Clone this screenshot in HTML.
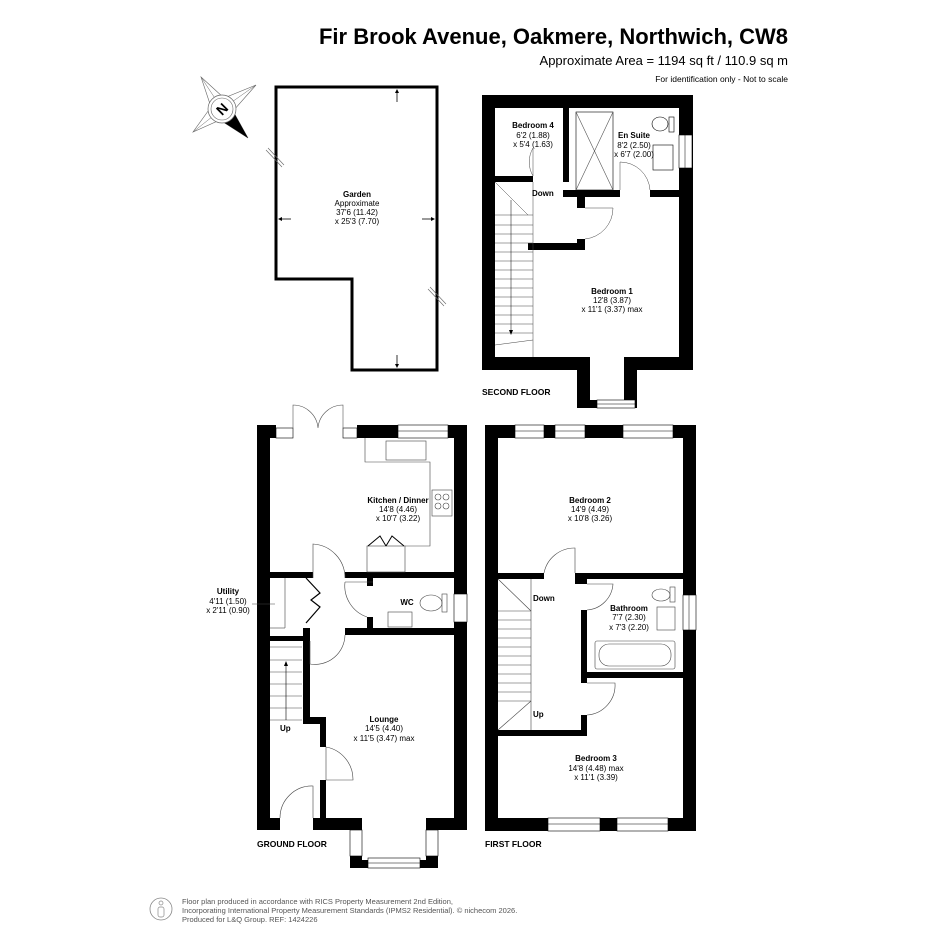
<!DOCTYPE html>
<html><head><meta charset="utf-8"><style>
html,body{margin:0;padding:0;background:#fff;}
svg{display:block;font-family:"Liberation Sans",Arial,sans-serif;}
.b{font-weight:bold;font-size:8px;}
.t{font-size:8px;}
.w{fill:#fff;stroke:#000;stroke-width:0.6;}
.l{fill:none;stroke:#555;stroke-width:0.6;}
</style></head><body>
<svg width="945" height="945" viewBox="0 0 945 945" xmlns="http://www.w3.org/2000/svg">
<rect width="945" height="945" fill="#fff"/>
<text x="788" y="44" text-anchor="end" font-size="22" font-weight="bold">Fir Brook Avenue, Oakmere, Northwich, CW8</text>
<text x="788" y="65" text-anchor="end" font-size="13">Approximate Area = 1194 sq ft / 110.9 sq m</text>
<text x="788" y="82" text-anchor="end" font-size="8.5">For identification only - Not to scale</text>

<!-- compass -->
<polygon points="201,77 224,98 256,85 233,111 248,138 220,120 193,132 211,107" fill="#fff" stroke="#666" stroke-width="0.6"/>
<g stroke="#666" stroke-width="0.5"><line x1="201" y1="77" x2="222" y2="109"/><line x1="256" y1="85" x2="222" y2="109"/><line x1="193" y1="132" x2="222" y2="109"/></g>
<polygon points="233,111 248,138 220,120 222,109" fill="#000"/>
<circle cx="222" cy="109" r="14" fill="#fff" stroke="#666" stroke-width="0.7"/>
<circle cx="222" cy="109" r="11" fill="none" stroke="#666" stroke-width="0.6"/>
<text x="222" y="114" text-anchor="middle" font-size="14" font-weight="bold" transform="rotate(-45 222 109)">N</text>

<!-- garden -->
<polygon points="276,87 437,87 437,370 352,370 352,279 276,279" fill="none" stroke="#000" stroke-width="3"/>
<g stroke="#000" stroke-width="0.8">
<line x1="397" y1="92" x2="397" y2="102"/><line x1="397" y1="355" x2="397" y2="365"/>
<line x1="281" y1="219" x2="291" y2="219"/><line x1="422" y1="219" x2="432" y2="219"/>
</g>
<g fill="#000"><polygon points="397,89 395,93 399,93"/><polygon points="397,368 395,364 399,364"/><polygon points="278,219 282,217 282,221"/><polygon points="435,219 431,217 431,221"/></g>
<g stroke="#666" stroke-width="0.6"><line x1="266" y1="150" x2="282" y2="167"/><line x1="268" y1="148" x2="284" y2="165"/>
<line x1="428" y1="289" x2="444" y2="306"/><line x1="430" y1="287" x2="446" y2="304"/></g>
<text x="357" y="197" text-anchor="middle" class="b">Garden</text>
<text x="357" y="206" text-anchor="middle" class="t">Approximate</text>
<text x="357" y="215" text-anchor="middle" class="t">37'6 (11.42)</text>
<text x="357" y="224" text-anchor="middle" class="t">x 25'3 (7.70)</text>

<!-- SECOND FLOOR -->
<rect x="482" y="95" width="211" height="275" fill="#000"/>
<rect x="577" y="360" width="60" height="48" fill="#000"/>
<rect x="495" y="108" width="184" height="249" fill="#fff"/>
<rect x="590" y="355" width="34" height="45" fill="#fff"/>
<rect x="597" y="400" width="38" height="8" class="w"/><line x1="597" y1="404" x2="635" y2="404" stroke="#000" stroke-width="0.5"/>
<rect x="679" y="135" width="13" height="33" class="w"/><line x1="685" y1="135" x2="685" y2="168" stroke="#000" stroke-width="0.5"/>
<g fill="#000">
<rect x="495" y="176" width="38" height="6"/>
<rect x="563" y="108" width="6" height="74"/>
<rect x="563" y="190" width="57" height="7"/>
<rect x="650" y="190" width="29" height="7"/>
<rect x="577" y="197" width="8" height="11"/>
<rect x="577" y="239" width="8" height="11"/>
<rect x="528" y="243" width="57" height="7"/>
</g>
<rect x="576" y="112" width="37" height="78" class="w"/>
<path d="M576 112 L613 190 M613 112 L576 190" class="l"/>
<rect x="653" y="145" width="20" height="25" class="w"/>
<ellipse cx="660" cy="124" rx="8" ry="7" class="w"/><rect x="669" y="117" width="5" height="15" class="w"/>
<g stroke="#444" stroke-width="0.5" fill="none">
<line x1="533" y1="182" x2="533" y2="357"/>
<path d="M495 182 L528 215"/>
<line x1="495" y1="215" x2="533" y2="215"/>
<line x1="495" y1="225" x2="533" y2="225"/><line x1="495" y1="234" x2="533" y2="234"/><line x1="495" y1="243" x2="533" y2="243"/>
<line x1="495" y1="252" x2="533" y2="252"/><line x1="495" y1="261" x2="533" y2="261"/><line x1="495" y1="270" x2="533" y2="270"/>
<line x1="495" y1="279" x2="533" y2="279"/><line x1="495" y1="288" x2="533" y2="288"/><line x1="495" y1="297" x2="533" y2="297"/>
<line x1="495" y1="306" x2="533" y2="306"/><line x1="495" y1="315" x2="533" y2="315"/><line x1="495" y1="324" x2="533" y2="324"/>
<line x1="495" y1="333" x2="533" y2="333"/><line x1="495" y1="345" x2="533" y2="340"/>
<line x1="511" y1="200" x2="511" y2="333" stroke="#000"/>
<path d="M533 176 L533 148 A28 28 0 0 0 533 176" />
<path d="M585 208 L613 208 A31 31 0 0 1 585 239" />
<path d="M620 190 L620 162 A30 30 0 0 1 650 190" />
</g>
<polygon points="509,330 513,330 511,335" fill="#000"/>
<text x="532" y="196" class="b">Down</text>
<text x="533" y="128" text-anchor="middle" class="b">Bedroom 4</text>
<text x="533" y="138" text-anchor="middle" class="t">6'2 (1.88)</text>
<text x="533" y="147" text-anchor="middle" class="t">x 5'4 (1.63)</text>
<text x="634" y="138" text-anchor="middle" class="b">En Suite</text>
<text x="634" y="148" text-anchor="middle" class="t">8'2 (2.50)</text>
<text x="634" y="157" text-anchor="middle" class="t">x 6'7 (2.00)</text>
<text x="612" y="294" text-anchor="middle" class="b">Bedroom 1</text>
<text x="612" y="303" text-anchor="middle" class="t">12'8 (3.87)</text>
<text x="612" y="312" text-anchor="middle" class="t">x 11'1 (3.37) max</text>
<text x="482" y="395" font-size="8.5" font-weight="bold">SECOND FLOOR</text>

<!-- GROUND FLOOR -->
<rect x="257" y="425" width="210" height="405" fill="#000"/>
<rect x="350" y="820" width="88" height="48" fill="#000"/>
<rect x="270" y="438" width="184" height="380" fill="#fff"/>
<rect x="276" y="425" width="81" height="13" fill="#fff"/>
<rect x="276" y="428" width="17" height="10" class="w"/><rect x="343" y="428" width="14" height="10" class="w"/>
<path d="M293 428 L293 405 A25 25 0 0 1 318 428 M343 428 L343 405 A25 25 0 0 0 318 428" class="l"/>
<rect x="398" y="425" width="50" height="13" class="w"/><line x1="398" y1="431" x2="448" y2="431" stroke="#000" stroke-width="0.5"/>
<rect x="280" y="818" width="33" height="12" fill="#fff"/>
<rect x="362" y="818" width="64" height="42" fill="#fff"/>
<rect x="350" y="830" width="12" height="26" class="w"/><rect x="426" y="830" width="12" height="26" class="w"/>
<rect x="368" y="858" width="52" height="10" class="w"/><line x1="368" y1="863" x2="420" y2="863" stroke="#000" stroke-width="0.5"/>
<rect x="454" y="594" width="13" height="28" class="w"/>
<g fill="#000">
<rect x="270" y="572" width="43" height="6"/>
<rect x="345" y="572" width="109" height="6"/>
<rect x="345" y="628" width="109" height="7"/>
<rect x="367" y="578" width="6" height="8"/>
<rect x="367" y="617" width="6" height="12"/>
<rect x="270" y="636" width="33" height="5"/>
<rect x="303" y="628" width="7" height="95"/>
<rect x="303" y="717" width="23" height="7"/>
<rect x="320" y="717" width="6" height="30"/>
<rect x="320" y="780" width="6" height="40"/>
<rect x="313" y="818" width="37" height="12"/>
</g>
<g stroke="#444" stroke-width="0.6" fill="none">
<path d="M365 438 L365 462 L430 462 L430 546 L405 546"/>
<rect x="367" y="546" width="38" height="26"/>
<rect x="386" y="441" width="40" height="19"/>
<rect x="432" y="490" width="20" height="26"/>
<circle cx="438" cy="497" r="3"/><circle cx="446" cy="497" r="3"/><circle cx="438" cy="506" r="3"/><circle cx="446" cy="506" r="3"/>
<path d="M368 546 L380 536 L386 546 M386 546 L392 536 L404 546" stroke="#000" stroke-width="1"/>
<path d="M313 578 L313 544 A34 34 0 0 1 345 578"/>
<path d="M345 582 L373 582 M345 582 A33 33 0 0 0 367 617"/>
<path d="M310 641 L310 664 A30 30 0 0 0 345 635"/>
<path d="M326 747 L326 780 M326 747 A33 33 0 0 1 353 780 L326 780"/>
<path d="M280 818 A32 32 0 0 1 313 786 L313 818"/>
<line x1="285" y1="578" x2="285" y2="628"/><line x1="270" y1="628" x2="285" y2="628"/>
<rect x="388" y="612" width="24" height="15"/>
<ellipse cx="431" cy="603" rx="11" ry="8"/><rect x="442" y="594" width="5" height="18"/>
<path d="M306 578 L320 593 L311 600 L320 607 L306 623" stroke="#000" stroke-width="1.2"/>
<line x1="270" y1="647" x2="302" y2="647"/>
<line x1="270" y1="660" x2="302" y2="660"/><line x1="270" y1="672" x2="302" y2="672"/><line x1="270" y1="684" x2="302" y2="684"/>
<line x1="270" y1="696" x2="302" y2="696"/><line x1="270" y1="708" x2="302" y2="708"/><line x1="270" y1="720" x2="302" y2="720"/>
<line x1="286" y1="663" x2="286" y2="720" stroke="#000"/>
<line x1="252" y1="604" x2="275" y2="604"/>
</g>
<polygon points="284,666 288,666 286,661" fill="#000"/>
<text x="398" y="503" text-anchor="middle" class="b">Kitchen / Dinner</text>
<text x="398" y="512" text-anchor="middle" class="t">14'8 (4.46)</text>
<text x="398" y="521" text-anchor="middle" class="t">x 10'7 (3.22)</text>
<text x="407" y="605" text-anchor="middle" class="b">WC</text>
<text x="228" y="594" text-anchor="middle" class="b">Utility</text>
<text x="228" y="604" text-anchor="middle" class="t">4'11 (1.50)</text>
<text x="228" y="613" text-anchor="middle" class="t">x 2'11 (0.90)</text>
<text x="384" y="722" text-anchor="middle" class="b">Lounge</text>
<text x="384" y="731" text-anchor="middle" class="t">14'5 (4.40)</text>
<text x="384" y="741" text-anchor="middle" class="t">x 11'5 (3.47) max</text>
<text x="280" y="731" class="b">Up</text>
<text x="257" y="847" font-size="8.5" font-weight="bold">GROUND FLOOR</text>

<!-- FIRST FLOOR -->
<rect x="485" y="425" width="211" height="406" fill="#000"/>
<rect x="498" y="438" width="185" height="380" fill="#fff"/>
<g class="w">
<rect x="515" y="425" width="29" height="13"/><rect x="555" y="425" width="30" height="13"/><rect x="623" y="425" width="50" height="13"/>
<rect x="548" y="818" width="52" height="13"/><rect x="617" y="818" width="51" height="13"/>
<rect x="683" y="595" width="13" height="35"/>
</g>
<g stroke="#000" stroke-width="0.5"><line x1="515" y1="431" x2="673" y2="431"/><line x1="548" y1="824" x2="668" y2="824"/><line x1="689" y1="595" x2="689" y2="630"/></g>
<g fill="#000">
<rect x="498" y="573" width="46" height="6"/>
<rect x="575" y="573" width="108" height="6"/>
<rect x="575" y="579" width="12" height="5"/>
<rect x="581" y="610" width="6" height="68"/>
<rect x="581" y="672" width="102" height="6"/>
<rect x="581" y="678" width="6" height="5"/>
<rect x="581" y="715" width="6" height="21"/>
<rect x="498" y="730" width="89" height="6"/>
</g>
<g stroke="#444" stroke-width="0.6" fill="none">
<path d="M544 573 A31 31 0 0 1 575 548 L575 573"/>
<path d="M587 584 L613 584 A28 28 0 0 1 587 610"/>
<path d="M587 683 L615 683 A30 30 0 0 1 587 715"/>
<rect x="595" y="641" width="80" height="28" rx="2"/>
<rect x="599" y="644" width="72" height="22" rx="10"/>
<rect x="657" y="607" width="18" height="23"/>
<ellipse cx="661" cy="595" rx="9" ry="6"/><rect x="670" y="587" width="5" height="15"/>
<line x1="531" y1="579" x2="531" y2="730"/>
<path d="M498 579 L531 611"/>
<line x1="498" y1="611" x2="531" y2="611"/>
<line x1="498" y1="620" x2="531" y2="620"/><line x1="498" y1="629" x2="531" y2="629"/><line x1="498" y1="638" x2="531" y2="638"/>
<line x1="498" y1="647" x2="531" y2="647"/><line x1="498" y1="656" x2="531" y2="656"/><line x1="498" y1="665" x2="531" y2="665"/>
<line x1="498" y1="674" x2="531" y2="674"/><line x1="498" y1="683" x2="531" y2="683"/><line x1="498" y1="692" x2="531" y2="692"/>
<line x1="498" y1="701" x2="531" y2="701"/>
<path d="M498 730 L531 701"/>
</g>
<text x="533" y="601" class="b">Down</text>
<text x="533" y="717" class="b">Up</text>
<text x="590" y="503" text-anchor="middle" class="b">Bedroom 2</text>
<text x="590" y="512" text-anchor="middle" class="t">14'9 (4.49)</text>
<text x="590" y="521" text-anchor="middle" class="t">x 10'8 (3.26)</text>
<text x="629" y="611" text-anchor="middle" class="b">Bathroom</text>
<text x="629" y="620" text-anchor="middle" class="t">7'7 (2.30)</text>
<text x="629" y="630" text-anchor="middle" class="t">x 7'3 (2.20)</text>
<text x="596" y="761" text-anchor="middle" class="b">Bedroom 3</text>
<text x="596" y="771" text-anchor="middle" class="t">14'8 (4.48) max</text>
<text x="596" y="780" text-anchor="middle" class="t">x 11'1 (3.39)</text>
<text x="485" y="847" font-size="8.5" font-weight="bold">FIRST FLOOR</text>

<circle cx="161" cy="909" r="11" fill="none" stroke="#888" stroke-width="0.8"/>
<circle cx="161" cy="903" r="2" fill="none" stroke="#888" stroke-width="0.7"/>
<rect x="158" y="907" width="6" height="10" rx="2" fill="none" stroke="#888" stroke-width="0.7"/>
<g font-size="7.5" fill="#555">
<text x="182" y="904">Floor plan produced in accordance with RICS Property Measurement 2nd Edition,</text>
<text x="182" y="913">Incorporating International Property Measurement Standards (IPMS2 Residential).   © nichecom 2026.</text>
<text x="182" y="922">Produced for L&amp;Q Group.   REF:    1424226</text>
</g>
</svg>
</body></html>
